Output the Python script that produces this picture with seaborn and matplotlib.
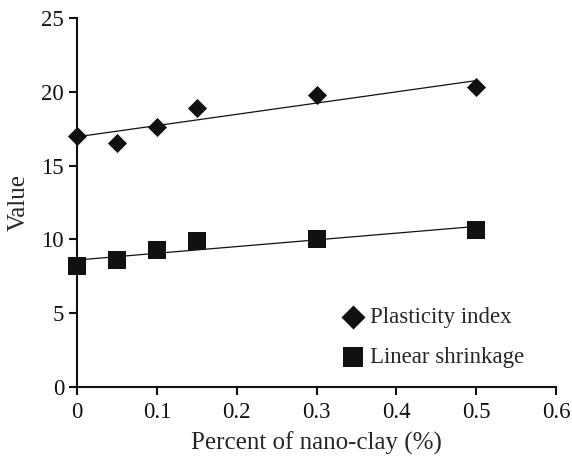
import matplotlib
matplotlib.use('Agg')
import matplotlib.pyplot as plt
import numpy as np
import seaborn as sns

# data
nano_clay = [0, 0.05, 0.1, 0.15, 0.3, 0.5]
plasticity_index = [17.0, 16.5, 17.6, 18.9, 19.75, 20.3]
linear_shrinkage = [8.2, 8.6, 9.25, 9.9, 10.0, 10.65]

x_ticks = [0, 0.1, 0.2, 0.3, 0.4, 0.5, 0.6]
x_tick_labels = ['0', '0.1', '0.2', '0.3', '0.4', '0.5', '0.6']
y_ticks = [0, 5, 10, 15, 20, 25]

sns.set_style('ticks')
plt.rcParams['font.family'] = ['Liberation Serif', 'DejaVu Serif']

fig = plt.figure(figsize=(5.72, 4.59), dpi=100)
ax = fig.add_axes([0.135, 0.157, 0.837, 0.804])

sns.regplot(x=nano_clay, y=plasticity_index, ax=ax, ci=None, marker='D',
            color='#111111', label='Plasticity index',
            scatter_kws={'s': 95, 'alpha': 1, 'linewidths': 0, 'clip_on': False,
                         'zorder': 3},
            line_kws={'linewidth': 0.9})
sns.regplot(x=nano_clay, y=linear_shrinkage, ax=ax, ci=None, marker='s',
            color='#111111', label='Linear shrinkage',
            scatter_kws={'s': 185, 'alpha': 1, 'linewidths': 0, 'clip_on': False,
                         'zorder': 3},
            line_kws={'linewidth': 0.9})

ax.set_xlim(0, 0.6)
ax.set_ylim(0, 25)
ax.set_xticks(x_ticks)
ax.set_xticklabels(x_tick_labels)
ax.set_yticks(y_ticks)
ax.set_xlabel('Percent of nano-clay (%)', fontsize=18, labelpad=6)
ax.set_ylabel('Value', fontsize=18, labelpad=8)

sns.despine(ax=ax)
for side in ['left', 'bottom']:
    ax.spines[side].set_linewidth(1.5)
    ax.spines[side].set_color('#111111')
ax.tick_params(direction='out', length=6, width=1.5, colors='#111111',
               labelsize=16.5)
ax.tick_params(axis='x', pad=5)

leg = ax.legend(loc='lower right', frameon=False, fontsize=16.5,
                handlelength=1.0, handletextpad=0.25, labelspacing=0.85,
                borderpad=0, borderaxespad=0, bbox_to_anchor=(0.933, 0.05))
leg.legend_handles[0].set_sizes([150])
leg.legend_handles[1].set_sizes([220])

fig.savefig('out.png', dpi=100)
